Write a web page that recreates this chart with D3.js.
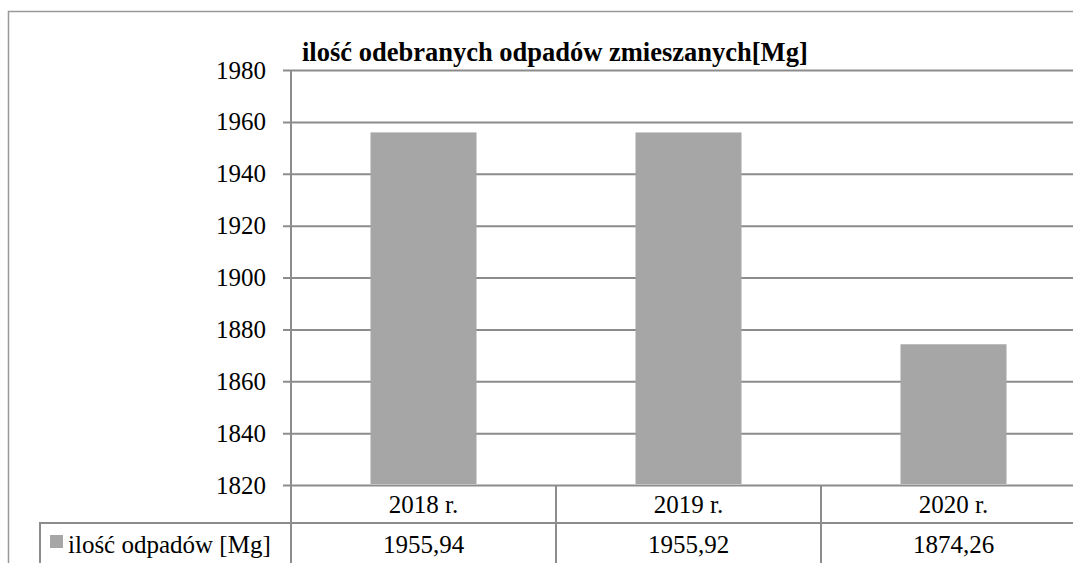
<!DOCTYPE html>
<html>
<head>
<meta charset="utf-8">
<script src="https://cdn.jsdelivr.net/npm/d3@7"></script>
<style>
  body { margin: 0; background: #fff; }
  svg { display: block; font-family: "Liberation Serif", "Times New Roman", serif; }
</style>
</head>
<body>
<div id="chart"></div>
<script>
// data
const categories = ["2018 r.", "2019 r.", "2020 r."];
const values = [1955.94, 1955.92, 1874.26];
const valueLabels = ["1955,94", "1955,92", "1874,26"];
const yTicks = [1820, 1840, 1860, 1880, 1900, 1920, 1940, 1960, 1980];
const seriesName = "ilość odpadów [Mg]";
const title = "ilość odebranych odpadów zmieszanych[Mg]";

const width = 1073, height = 563;
const plotLeft = 291, plotRight = 1086, plotTop = 70, plotBottom = 485;
const gridColor = "#8c8c8c";
const barColor = "#a6a6a6";
const fontSize = "25px";

let svg = d3.select("#chart").append("svg")
  .attr("width", width)
  .attr("height", height);

// outer frame
svg.append("path")
  .attr("d", `M8.5,${height} V11.5 H${width}`)
  .attr("fill", "none")
  .attr("stroke", "#999")
  .attr("stroke-width", 1.5);

let x = d3.scaleBand().domain(categories).range([plotLeft, plotRight])
  .paddingInner(0.6).paddingOuter(0.3);
let y = d3.scaleLinear().domain([1820, 1980]).range([plotBottom, plotTop]);

// gridlines + tick labels
let yAxis = d3.axisLeft(y).tickValues(yTicks).tickSize(-(plotRight - plotLeft)).tickFormat(d3.format("d"));
let gy = svg.append("g").attr("transform", `translate(${plotLeft},0)`).call(yAxis)
  .attr("font-family", null)
  .attr("font-size", null);
gy.select(".domain").remove();
gy.selectAll(".tick line")
  .attr("x1", -8)
  .attr("stroke", gridColor)
  .attr("stroke-width", 2);
gy.selectAll(".tick text")
  .attr("x", -25)
  .attr("dy", "0.32em")
  .attr("fill", "#000")
  .style("font-size", fontSize);

// bars
svg.append("g").selectAll("rect")
  .data(values).enter()
  .append("rect")
  .attr("x", (d, i) => x(categories[i]))
  .attr("y", d => y(d))
  .attr("width", x.bandwidth())
  .attr("height", d => y(1820) - y(d) - 1)
  .attr("fill", barColor);

// y axis line (continues down through the table)
svg.append("line")
  .attr("x1", plotLeft).attr("x2", plotLeft)
  .attr("y1", plotTop).attr("y2", height)
  .attr("stroke", gridColor).attr("stroke-width", 2);

// data table
let rowLine = 523;
svg.append("line")
  .attr("x1", 40).attr("x2", width)
  .attr("y1", rowLine).attr("y2", rowLine)
  .attr("stroke", gridColor).attr("stroke-width", 2);
svg.append("line")
  .attr("x1", 40).attr("x2", 40)
  .attr("y1", rowLine - 1).attr("y2", height)
  .attr("stroke", gridColor).attr("stroke-width", 2);

let step = x.step();
svg.append("g").selectAll("line")
  .data(categories.slice(1)).enter()
  .append("line")
  .attr("x1", c => x(c) - step * x.paddingInner() / 2)
  .attr("x2", c => x(c) - step * x.paddingInner() / 2)
  .attr("y1", plotBottom).attr("y2", height)
  .attr("stroke", gridColor).attr("stroke-width", 2);

svg.append("g").selectAll("text")
  .data(categories).enter()
  .append("text")
  .attr("x", c => x(c) + x.bandwidth() / 2)
  .attr("y", 513)
  .attr("text-anchor", "middle")
  .style("font-size", fontSize)
  .text(c => c);

svg.append("g").selectAll("text")
  .data(valueLabels).enter()
  .append("text")
  .attr("x", (d, i) => x(categories[i]) + x.bandwidth() / 2)
  .attr("y", 553)
  .attr("text-anchor", "middle")
  .style("font-size", fontSize)
  .text(d => d);

// legend key in the table
svg.append("rect")
  .attr("x", 50).attr("y", 535)
  .attr("width", 13).attr("height", 13)
  .attr("fill", barColor);
svg.append("text")
  .attr("x", 68).attr("y", 553)
  .style("font-size", fontSize)
  .text(seriesName);

// title
svg.append("text")
  .attr("x", 302).attr("y", 61)
  .style("font-size", "26.5px")
  .style("font-weight", "bold")
  .text(title);
</script>
</body>
</html>
